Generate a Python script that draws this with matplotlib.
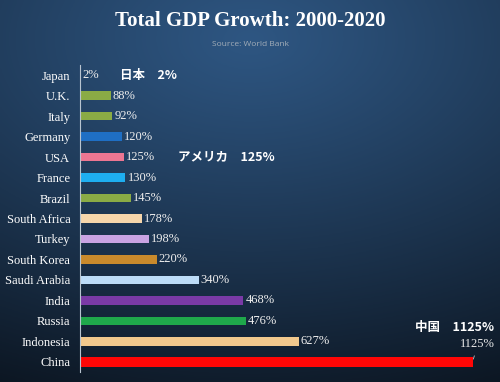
import numpy as np
import matplotlib
matplotlib.use("Agg")
import matplotlib.pyplot as plt

# data
countries = ["Japan", "U.K.", "Italy", "Germany", "USA", "France", "Brazil",
             "South Africa", "Turkey", "South Korea", "Saudi Arabia", "India",
             "Russia", "Indonesia", "China"]
growth = [2, 88, 92, 120, 125, 130, 145, 178, 198, 220, 340, 468, 476, 627, 1125]
bar_colors = ["#8aab45", "#8aab45", "#8aab45", "#1f6fc4", "#ec7692", "#1eaef0",
              "#8aab45", "#f6d6ab", "#c9a3e3", "#c98a2c", "#bcdcf8", "#7a3aa6",
              "#1fa84b", "#f1c88d", "#ff0606"]
jp_notes = [("日本　2%", "Japan"), ("アメリカ　125%", "USA"), ("中国　1125%", "China")]

fig = plt.figure(figsize=(5, 3.82), dpi=100)

# dark blue background, lighter near the top centre
bg = fig.add_axes([0, 0, 1, 1])
yy, xx = np.mgrid[0:1:200j, 0:1:260j]
r = np.sqrt(((xx - 0.5) * 0.8) ** 2 + ((yy - 0.1) * 1.0) ** 2)
t = np.clip(r / 1.05, 0, 1) ** 1.1
top = np.array([0x2e, 0x56, 0x82]) / 255
bot = np.array([0x0a, 0x12, 0x1c]) / 255
img = top[None, None, :] * (1 - t[..., None]) + bot[None, None, :] * t[..., None]
bg.imshow(img, aspect="auto", extent=[0, 1, 0, 1], origin="upper")
bg.axis("off")

ax = fig.add_axes([80 / 500, 10 / 382, 410 / 500, 307 / 382])
ax.patch.set_alpha(0)
pos = np.arange(len(countries))
heights = [0.42] * (len(countries) - 1) + [0.5]
ax.barh(pos, growth, height=heights, color=bar_colors)
ax.set_xlim(0, 1175)
ax.set_ylim(len(countries) - 0.5, -0.5)
ax.set_yticks(pos)
ax.set_yticklabels(countries, family="Liberation Serif", fontsize=9, color="white")
ax.tick_params(axis="y", length=0, pad=7)
ax.set_xticks([])
for s in ["top", "right", "bottom"]:
    ax.spines[s].set_visible(False)
ax.spines["left"].set_color("#b8c4d0")
ax.spines["left"].set_linewidth(0.8)

for i, v in enumerate(growth):
    if countries[i] == "China":
        ax.annotate(f"{v}%", xy=(v, i), xytext=(v + 15, i - 0.85),
                    family="Liberation Serif", fontsize=9, color="#e8e8e8",
                    ha="center", va="center",
                    arrowprops=dict(arrowstyle="-", color="#c0c0c0", lw=0.6))
    else:
        ax.text(v + 6, i, f"{v}%", family="Liberation Serif", fontsize=9,
                color="#eeeeee", va="center", ha="left")

jp_x = {"Japan": 115, "USA": 280, "China": 960}
for txt, c in jp_notes:
    i = countries.index(c)
    yoff = -1.65 if c == "China" else 0
    ax.text(jp_x[c], i + yoff, txt, family="Noto Sans CJK JP", fontweight="bold",
            fontsize=9, color="white", va="center", ha="left")

fig.text(0.5, 1 - 21 / 382, "Total GDP Growth: 2000-2020", ha="center", va="center",
         family="Liberation Serif", fontweight="bold", fontsize=15, color="white")
fig.text(0.5, 1 - 45 / 382, "Source: World Bank", ha="center", va="center",
         family="Open Sans", fontsize=6, color="#a3adb8")

fig.savefig("out.png", dpi=100)
